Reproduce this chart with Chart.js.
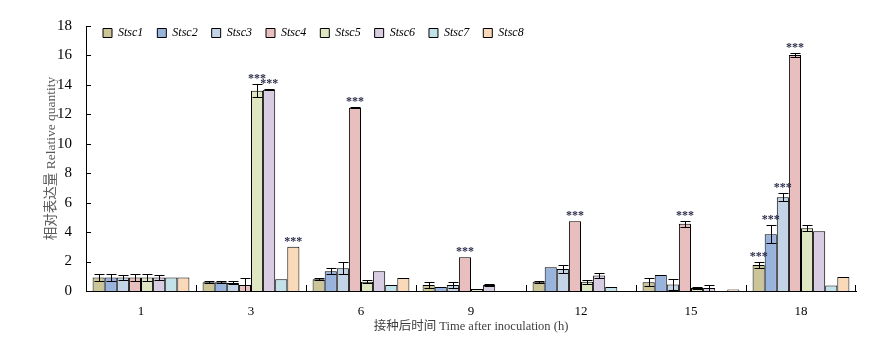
<!DOCTYPE html>
<html>
<head>
<meta charset="utf-8">
<script src="https://cdn.jsdelivr.net/npm/chart.js@4.4.0/dist/chart.umd.min.js"></script>
<style>
    html, body { margin: 0; padding: 0; background: #fff; }
</style>
</head>
<body>
<canvas id="qpcrChart" width="885" height="348"></canvas>
<script>
// time points (h)
const timePoints = ['1', '3', '6', '9', '12', '15', '18'];

// relative quantity per gene
const stsc1 = [0.92, 0.60, 0.80, 0.40, 0.63, 0.60, 1.76];
const stsc2 = [0.92, 0.60, 1.35, 0.27, 1.62, 1.08, 3.86];
const stsc3 = [0.92, 0.55, 1.55, 0.40, 1.50, 0.45, 6.36];
const stsc4 = [0.92, 0.40, 12.45, 2.30, 4.74, 4.57, 16.03];
const stsc5 = [0.92, 13.60, 0.63, 0.13, 0.63, 0.20, 4.26];
const stsc6 = [0.92, 13.67, 1.35, 0.40, 1.05, 0.20, 4.06];
const stsc7 = [0.92, 0.80, 0.40, 0.00, 0.27, 0.00, 0.38];
const stsc8 = [0.92, 3.00, 0.88, 0.00, 0.00, 0.10, 0.95];

// standard errors
const stsc1Err = [0.22, 0.08, 0.05, 0.20, 0.07, 0.25, 0.20];
const stsc2Err = [0.22, 0.08, 0.20, 0.00, 0.00, 0.00, 0.60];
const stsc3Err = [0.15, 0.10, 0.40, 0.20, 0.30, 0.35, 0.27];
const stsc4Err = [0.22, 0.45, 0.03, 0.00, 0.00, 0.20, 0.14];
const stsc5Err = [0.22, 0.45, 0.10, 0.00, 0.15, 0.05, 0.20];
const stsc6Err = [0.15, 0.03, 0.00, 0.06, 0.20, 0.20, 0.00];
const stsc7Err = [0, 0, 0, 0, 0, 0, 0];
const stsc8Err = [0, 0, 0, 0, 0, 0, 0];

// significance marks
const stsc1Sig = ['', '', '', '', '', '', '***'];
const stsc2Sig = ['', '', '', '', '', '', '***'];
const stsc3Sig = ['', '', '', '', '', '', '***'];
const stsc4Sig = ['', '', '***', '***', '***', '***', '***'];
const stsc5Sig = ['', '***', '', '', '', '', ''];
const stsc6Sig = ['', '***', '', '', '', '', ''];
const stsc7Sig = ['', '', '', '', '', '', ''];
const stsc8Sig = ['', '***', '', '', '', '', ''];

const yTicks = [0, 2, 4, 6, 8, 10, 12, 14, 16, 18];

const seriesNames = ['Stsc1', 'Stsc2', 'Stsc3', 'Stsc4', 'Stsc5', 'Stsc6', 'Stsc7', 'Stsc8'];
const seriesValues = [stsc1, stsc2, stsc3, stsc4, stsc5, stsc6, stsc7, stsc8];
const seriesErrors = [stsc1Err, stsc2Err, stsc3Err, stsc4Err, stsc5Err, stsc6Err, stsc7Err, stsc8Err];
const seriesSig = [stsc1Sig, stsc2Sig, stsc3Sig, stsc4Sig, stsc5Sig, stsc6Sig, stsc7Sig, stsc8Sig];
const seriesColors = ['#cbc597', '#98b4dc', '#c3d4e6', '#e8bfbe', '#dfe7c2', '#d7cce2', '#c3e1e8', '#f9d9b8'];

const serif = "'Liberation Serif', 'Noto Sans CJK SC', serif";

// error bars, stars and inward tick marks
const extrasPlugin = {
    id: 'extras',
    beforeLayout(chart) {
        // legend should float over the plot, so it takes no room in the layout
        const lg = chart.legend;
        if (lg && !lg._floating) {
            const fit = lg.fit.bind(lg);
            lg.fit = function () { fit(); this.height = 0; };
            lg._floating = true;
        }
    },
    afterLayout(chart) {
        const lg = chart.legend;
        const area = chart.chartArea;
        lg.left = area.left + 3;
        lg.right = area.right;
        lg.width = lg.right - lg.left;
        lg.top = 13;
        lg.bottom = 55;
        lg.height = 42;
    },
    afterDatasetsDraw(chart) {
        const ctx = chart.ctx;
        const y = chart.scales.y;
        ctx.save();
        ctx.strokeStyle = '#000';
        ctx.lineWidth = 1;
        seriesValues.forEach((vals, di) => {
            const meta = chart.getDatasetMeta(di);
            vals.forEach((v, j) => {
                const e = seriesErrors[di][j];
                const bar = meta.data[j];
                const x = Math.round(bar.x) + 0.5;
                if (e) {
                    const yTop = Math.round(y.getPixelForValue(v + e)) + 0.5;
                    const yBot = Math.round(y.getPixelForValue(Math.max(v - e, 0))) + 0.5;
                    ctx.beginPath();
                    ctx.moveTo(x, yTop); ctx.lineTo(x, yBot);
                    ctx.moveTo(x - 5, yTop); ctx.lineTo(x + 5, yTop);
                    ctx.moveTo(x - 5, yBot); ctx.lineTo(x + 5, yBot);
                    ctx.stroke();
                }
                const sig = seriesSig[di][j];
                if (sig) {
                    ctx.fillStyle = '#2b2d4a';
                    ctx.font = "bold 12px " + serif;
                    ctx.textAlign = 'center';
                    ctx.textBaseline = 'alphabetic';
                    ctx.fillText(sig, bar.x, y.getPixelForValue(v + e) - 2);
                }
            });
        });
        ctx.restore();
    },
    afterDraw(chart) {
        const ctx = chart.ctx;
        const area = chart.chartArea;
        const x = chart.scales.x;
        const y = chart.scales.y;
        ctx.save();
        ctx.strokeStyle = '#000';
        ctx.lineWidth = 1;
        ctx.beginPath();
        y.ticks.forEach(t => {
            if (t.value === 0) return;
            const py = Math.round(y.getPixelForValue(t.value)) + 0.5;
            ctx.moveTo(area.left, py);
            ctx.lineTo(area.left + 5, py);
        });
        for (let i = 0; i < timePoints.length - 1; i++) {
            const px = Math.round((x.getPixelForValue(i) + x.getPixelForValue(i + 1)) / 2) + 0.5;
            ctx.moveTo(px, area.bottom);
            ctx.lineTo(px, area.bottom - 6);
        }
        const rx = Math.round(area.right) - 0.5;
        ctx.moveTo(rx, area.bottom);
        ctx.lineTo(rx, area.bottom - 6);
        ctx.stroke();
        ctx.restore();
    }
};

new Chart(document.getElementById('qpcrChart'), {
    type: 'bar',
    data: {
        labels: timePoints,
        datasets: seriesNames.map((name, i) => ({
            label: name,
            data: seriesValues[i],
            backgroundColor: seriesColors[i],
            borderColor: '#000',
            borderWidth: 1,
            categoryPercentage: 0.88,
            barPercentage: 1
        }))
    },
    options: {
        responsive: false,
        animation: false,
        layout: { padding: { top: 26, right: 29, left: 0, bottom: 0 } },
        plugins: {
            legend: {
                position: 'top',
                align: 'start',
                labels: {
                    boxWidth: 9,
                    boxHeight: 9,
                    padding: 14,
                    color: '#000',
                    font: { family: serif, size: 12, style: 'italic' }
                }
            },
            tooltip: { enabled: false }
        },
        scales: {
            x: {
                grid: { display: false },
                border: { color: '#000', width: 1 },
                ticks: { color: '#000', padding: 5, font: { family: serif, size: 13 } },
                title: {
                    display: true,
                    text: '接种后时间 Time after inoculation (h)',
                    color: '#404040',
                    padding: { top: 0, bottom: 14 },
                    font: { family: serif, size: 12.5 }
                },
                afterFit(scale) { scale.height = 57; }
            },
            y: {
                min: 0,
                max: 18,
                grid: { display: false },
                border: { color: '#000', width: 1 },
                afterBuildTicks(scale) { scale.ticks = yTicks.map(v => ({ value: v })); },
                ticks: { color: '#000', padding: 6, font: { family: serif, size: 15 } },
                title: {
                    display: true,
                    text: '相对表达量 Relative quantity',
                    color: '#595959',
                    padding: { top: 43, bottom: 0 },
                    font: { family: serif, size: 13.5 }
                },
                afterFit(scale) { scale.width = 86; }
            }
        }
    },
    plugins: [extrasPlugin]
});
</script>
</body>
</html>
